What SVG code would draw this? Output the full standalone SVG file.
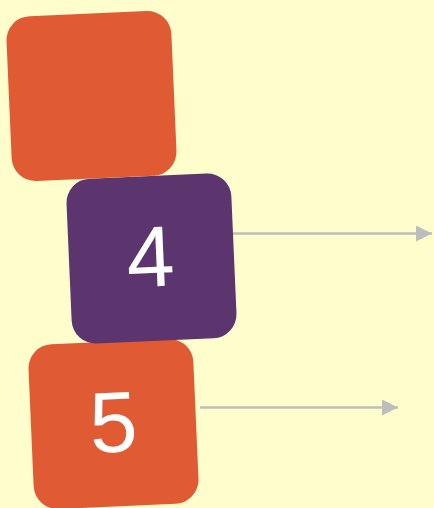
<svg xmlns="http://www.w3.org/2000/svg" width="434" height="508" viewBox="0 0 434 508">
  <defs>
    <marker id="arr" viewBox="0 0 16 16" refX="16" refY="8" markerWidth="16" markerHeight="16" markerUnits="userSpaceOnUse" orient="auto">
      <path d="M0,0 L16,8 L0,16 Z" fill="#BDBDBD"/>
    </marker>
  </defs>
  <style>
    .orange { fill: #E05A33; }
    .purple { fill: #5C356F; }
    .lbl { fill: #FFFFFF; font-family: "Liberation Sans", Arial, sans-serif; font-size: 86px; text-anchor: middle; }
    .conn { stroke: #BDBDBD; stroke-width: 2.5; fill: none; }
  </style>
  <rect x="0" y="0" width="434" height="508" fill="#FFFDCC"/>
  <g id="connectors">
    <line class="conn" x1="233" y1="233.5" x2="432" y2="233.5" marker-end="url(#arr)"/>
    <line class="conn" x1="200" y1="407.5" x2="398" y2="407.5" marker-end="url(#arr)"/>
  </g>
  <g id="node5" transform="translate(113.5,424) rotate(-2.5)">
    <rect class="orange" x="-82.5" y="-82.5" width="165" height="165" rx="24"/>
    <text class="lbl" x="0" y="28">5</text>
  </g>
  <g id="node4" transform="translate(151.5,258.5) rotate(-2.5)">
    <rect class="purple" x="-82.5" y="-82.5" width="165" height="165" rx="24"/>
    <text class="lbl" x="-1" y="28">4</text>
  </g>
  <g id="node3" transform="translate(91.5,96) rotate(-2.5)">
    <rect class="orange" x="-82.5" y="-82.5" width="165" height="165" rx="24"/>
  </g>
</svg>
